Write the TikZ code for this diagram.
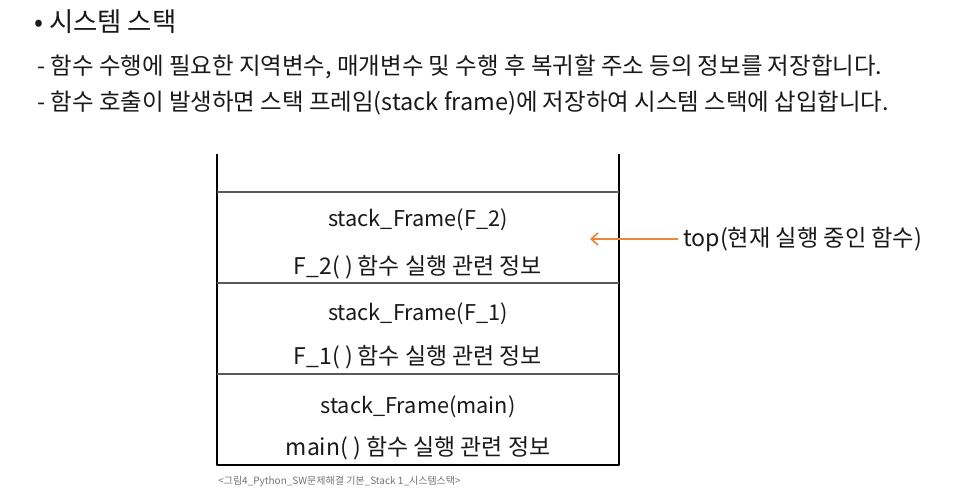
\documentclass[tikz,border=0pt]{standalone}
\usepackage{fontspec}
\setmainfont{Noto Sans CJK KR}
\usetikzlibrary{arrows.meta}
\definecolor{camtop}{RGB}{234,134,58}
\begin{document}
\begin{tikzpicture}[x=0.75pt,y=-0.75pt,line join=round,
	chu/.style={text=black!90,inner sep=0pt},
	ngan/.style={line width=1.1pt,draw=black!65}]
			\useasboundingbox (0,0) rectangle (964,496);
			\def\trai{217} % 왼쪽 벽
			\def\phai{619} % 오른쪽 벽
			\def\dinh{154} % 벽 위 끝
			\def\day{465} % 바닥
			\def\giua{418} % 스택 가운데
			\coordinate[] (TL) at (\trai,\dinh);
			\coordinate[] (BL) at (\trai,\day);
			\coordinate[] (BR) at (\phai,\day);
			\coordinate[] (TR) at (\phai,\dinh);
			\draw[line width=2.2pt] (TL)--(BL)--(BR)--(TR);
			\foreach \y in {192,283,374}\draw[ngan] (\trai,\y)--(\phai,\y);
			% 설명
			\node[chu,anchor=west,font=\fontsize{19.8}{22}\selectfont] (tieude) at (34,22) {• 시스템 스택};
			\node[chu,anchor=west,font=\fontsize{17.6}{20}\selectfont] (dong1) at (37,67) {- 함수 수행에 필요한 지역변수, 매개변수 및 수행 후 복귀할 주소 등의 정보를 저장합니다.};
			\node[chu,anchor=west,font=\fontsize{17.6}{20}\selectfont] (dong2) at (37,103) {- 함수 호출이 발생하면 스택 프레임(stack frame)에 저장하여 시스템 스택에 삽입합니다.};
			% 스택 프레임
			\foreach \ten/\ham/\ya/\yb in {f2/F\_2/220/267,f1/F\_1/314/357,main/main/407/448}{
				\node[chu,font=\fontsize{16.3}{18}\selectfont] (\ten) at (\giua,\ya) {stack\_Frame(\ham)};
				\node[chu,font=\fontsize{17.2}{18}\selectfont] (\ten-info) at (\giua,\yb) {\ham( ) 함수 실행 관련 정보};
			}
			% top
			\node[chu,anchor=west,font=\fontsize{17.4}{20}\selectfont] (top) at (683,239) {top(현재 실행 중인 함수)};
			\coordinate[] (topdich) at (590,239);
			\draw[camtop,line width=1.3pt,-{Straight Barb[length=5pt,width=9pt]}] ([xshift=-4pt]top.west)--(topdich);
			\node[chu,anchor=west,text=black!55,font=\fontsize{7.5}{9}\selectfont] (chuthich) at (218,482) {<그림4\_Python\_SW문제해결 기본\_Stack 1\_시스템스택>};
			\end{tikzpicture}
\end{document}
